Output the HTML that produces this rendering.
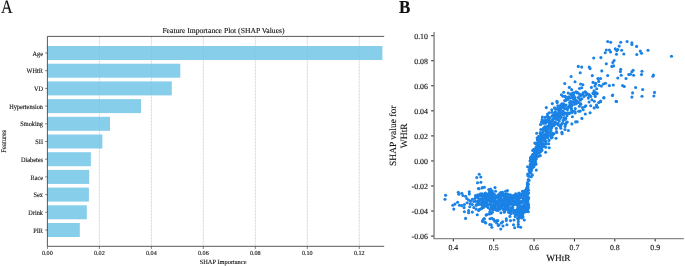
<!DOCTYPE html>
<html><head><meta charset="utf-8"><title>SHAP</title>
<style>html,body{margin:0;padding:0;background:#fff;}svg{display:block;}text{font-family:"Liberation Serif",serif;fill:#111;stroke:#111;stroke-width:0.12px;text-rendering:geometricPrecision;}svg{will-change:transform;}</style></head><body>
<svg width="685" height="266" viewBox="0 0 685 266">
<rect width="685" height="266" fill="#ffffff"/>
<text transform="translate(0.9,12.5) scale(1,1.17)" font-size="16.2" fill="#000" stroke="#000" stroke-width="0.25">A</text>
<text transform="translate(399.1,12.9) scale(1,1.08)" font-size="17" font-weight="bold" fill="#000" stroke="none">B</text>
<line x1="99.38" y1="36.4" x2="99.38" y2="246.3" stroke="#dadada" stroke-width="0.75" stroke-dasharray="2.1,0.9"/>
<line x1="151.36" y1="36.4" x2="151.36" y2="246.3" stroke="#dadada" stroke-width="0.75" stroke-dasharray="2.1,0.9"/>
<line x1="203.34" y1="36.4" x2="203.34" y2="246.3" stroke="#dadada" stroke-width="0.75" stroke-dasharray="2.1,0.9"/>
<line x1="255.32" y1="36.4" x2="255.32" y2="246.3" stroke="#dadada" stroke-width="0.75" stroke-dasharray="2.1,0.9"/>
<line x1="307.30" y1="36.4" x2="307.30" y2="246.3" stroke="#dadada" stroke-width="0.75" stroke-dasharray="2.1,0.9"/>
<line x1="359.28" y1="36.4" x2="359.28" y2="246.3" stroke="#dadada" stroke-width="0.75" stroke-dasharray="2.1,0.9"/>
<rect x="47.4" y="46.00" width="335.00" height="14.0" fill="#87ceeb"/>
<rect x="47.4" y="63.70" width="132.90" height="14.0" fill="#87ceeb"/>
<rect x="47.4" y="81.40" width="124.40" height="14.0" fill="#87ceeb"/>
<rect x="47.4" y="99.10" width="93.60" height="14.0" fill="#87ceeb"/>
<rect x="47.4" y="116.80" width="62.60" height="14.0" fill="#87ceeb"/>
<rect x="47.4" y="134.50" width="55.00" height="14.0" fill="#87ceeb"/>
<rect x="47.4" y="152.20" width="43.50" height="14.0" fill="#87ceeb"/>
<rect x="47.4" y="169.90" width="41.80" height="14.0" fill="#87ceeb"/>
<rect x="47.4" y="187.60" width="41.50" height="14.0" fill="#87ceeb"/>
<rect x="47.4" y="205.30" width="39.40" height="14.0" fill="#87ceeb"/>
<rect x="47.4" y="223.00" width="32.40" height="14.0" fill="#87ceeb"/>
<line x1="99.38" y1="36.4" x2="99.38" y2="246.3" stroke="#9aa5ab" stroke-opacity="0.22" stroke-width="0.75" stroke-dasharray="2.1,0.9"/>
<line x1="151.36" y1="36.4" x2="151.36" y2="246.3" stroke="#9aa5ab" stroke-opacity="0.22" stroke-width="0.75" stroke-dasharray="2.1,0.9"/>
<line x1="203.34" y1="36.4" x2="203.34" y2="246.3" stroke="#9aa5ab" stroke-opacity="0.22" stroke-width="0.75" stroke-dasharray="2.1,0.9"/>
<line x1="255.32" y1="36.4" x2="255.32" y2="246.3" stroke="#9aa5ab" stroke-opacity="0.22" stroke-width="0.75" stroke-dasharray="2.1,0.9"/>
<line x1="307.30" y1="36.4" x2="307.30" y2="246.3" stroke="#9aa5ab" stroke-opacity="0.22" stroke-width="0.75" stroke-dasharray="2.1,0.9"/>
<line x1="359.28" y1="36.4" x2="359.28" y2="246.3" stroke="#9aa5ab" stroke-opacity="0.22" stroke-width="0.75" stroke-dasharray="2.1,0.9"/>
<path d="M384.2 36.4 H47.4 V246.3 H384.2" fill="none" stroke="#3c3c3c" stroke-width="0.85"/>
<line x1="45.1" y1="53.00" x2="47.4" y2="53.00" stroke="#333" stroke-width="0.6"/>
<text transform="translate(43.00,55.60) scale(0.965,1.06)" font-size="6.5" text-anchor="end">Age</text>
<line x1="45.1" y1="70.70" x2="47.4" y2="70.70" stroke="#333" stroke-width="0.6"/>
<text transform="translate(43.00,73.30) scale(0.965,1.06)" font-size="6.5" text-anchor="end">WHtR</text>
<line x1="45.1" y1="88.40" x2="47.4" y2="88.40" stroke="#333" stroke-width="0.6"/>
<text transform="translate(43.00,91.00) scale(0.965,1.06)" font-size="6.5" text-anchor="end">VD</text>
<line x1="45.1" y1="106.10" x2="47.4" y2="106.10" stroke="#333" stroke-width="0.6"/>
<text transform="translate(43.00,108.70) scale(0.965,1.06)" font-size="6.5" text-anchor="end">Hypertension</text>
<line x1="45.1" y1="123.80" x2="47.4" y2="123.80" stroke="#333" stroke-width="0.6"/>
<text transform="translate(43.00,126.40) scale(0.965,1.06)" font-size="6.5" text-anchor="end">Smoking</text>
<line x1="45.1" y1="141.50" x2="47.4" y2="141.50" stroke="#333" stroke-width="0.6"/>
<text transform="translate(43.00,144.10) scale(0.965,1.06)" font-size="6.5" text-anchor="end">SII</text>
<line x1="45.1" y1="159.20" x2="47.4" y2="159.20" stroke="#333" stroke-width="0.6"/>
<text transform="translate(43.00,161.80) scale(0.965,1.06)" font-size="6.5" text-anchor="end">Diabetes</text>
<line x1="45.1" y1="176.90" x2="47.4" y2="176.90" stroke="#333" stroke-width="0.6"/>
<text transform="translate(43.00,179.50) scale(0.965,1.06)" font-size="6.5" text-anchor="end">Race</text>
<line x1="45.1" y1="194.60" x2="47.4" y2="194.60" stroke="#333" stroke-width="0.6"/>
<text transform="translate(43.00,197.20) scale(0.965,1.06)" font-size="6.5" text-anchor="end">Sex</text>
<line x1="45.1" y1="212.30" x2="47.4" y2="212.30" stroke="#333" stroke-width="0.6"/>
<text transform="translate(43.00,214.90) scale(0.965,1.06)" font-size="6.5" text-anchor="end">Drink</text>
<line x1="45.1" y1="230.00" x2="47.4" y2="230.00" stroke="#333" stroke-width="0.6"/>
<text transform="translate(43.00,232.60) scale(0.965,1.06)" font-size="6.5" text-anchor="end">PIR</text>
<line x1="47.40" y1="246.3" x2="47.40" y2="249.0" stroke="#333" stroke-width="0.6"/>
<text x="47.40" y="255.3" font-size="6.15" text-anchor="middle">0.00</text>
<line x1="99.38" y1="246.3" x2="99.38" y2="249.0" stroke="#333" stroke-width="0.6"/>
<text x="99.38" y="255.3" font-size="6.15" text-anchor="middle">0.02</text>
<line x1="151.36" y1="246.3" x2="151.36" y2="249.0" stroke="#333" stroke-width="0.6"/>
<text x="151.36" y="255.3" font-size="6.15" text-anchor="middle">0.04</text>
<line x1="203.34" y1="246.3" x2="203.34" y2="249.0" stroke="#333" stroke-width="0.6"/>
<text x="203.34" y="255.3" font-size="6.15" text-anchor="middle">0.06</text>
<line x1="255.32" y1="246.3" x2="255.32" y2="249.0" stroke="#333" stroke-width="0.6"/>
<text x="255.32" y="255.3" font-size="6.15" text-anchor="middle">0.08</text>
<line x1="307.30" y1="246.3" x2="307.30" y2="249.0" stroke="#333" stroke-width="0.6"/>
<text x="307.30" y="255.3" font-size="6.15" text-anchor="middle">0.10</text>
<line x1="359.28" y1="246.3" x2="359.28" y2="249.0" stroke="#333" stroke-width="0.6"/>
<text x="359.28" y="255.3" font-size="6.15" text-anchor="middle">0.12</text>
<text x="223.5" y="32.9" font-size="7.65" text-anchor="middle">Feature Importance Plot (SHAP Values)</text>
<text x="223.1" y="263.6" font-size="6.4" text-anchor="middle">SHAP Importance</text>
<text transform="translate(5.7,141.5) rotate(-90) scale(1,1.08)" font-size="6.65" text-anchor="middle">Features</text>
<path d="M434.05 32.1 V238.6 H683.8" fill="none" stroke="#888888" stroke-width="1.45"/>
<line x1="431.15" y1="236.10" x2="433.55" y2="236.10" stroke="#111" stroke-width="0.95"/>
<text x="428.0" y="239.00" font-size="7.9" text-anchor="end">-0.06</text>
<line x1="431.15" y1="211.05" x2="433.55" y2="211.05" stroke="#111" stroke-width="0.95"/>
<text x="428.0" y="213.95" font-size="7.9" text-anchor="end">-0.04</text>
<line x1="431.15" y1="186.00" x2="433.55" y2="186.00" stroke="#111" stroke-width="0.95"/>
<text x="428.0" y="188.90" font-size="7.9" text-anchor="end">-0.02</text>
<line x1="431.15" y1="160.95" x2="433.55" y2="160.95" stroke="#111" stroke-width="0.95"/>
<text x="428.0" y="163.85" font-size="7.9" text-anchor="end">0.00</text>
<line x1="431.15" y1="135.90" x2="433.55" y2="135.90" stroke="#111" stroke-width="0.95"/>
<text x="428.0" y="138.80" font-size="7.9" text-anchor="end">0.02</text>
<line x1="431.15" y1="110.85" x2="433.55" y2="110.85" stroke="#111" stroke-width="0.95"/>
<text x="428.0" y="113.75" font-size="7.9" text-anchor="end">0.04</text>
<line x1="431.15" y1="85.80" x2="433.55" y2="85.80" stroke="#111" stroke-width="0.95"/>
<text x="428.0" y="88.70" font-size="7.9" text-anchor="end">0.06</text>
<line x1="431.15" y1="60.75" x2="433.55" y2="60.75" stroke="#111" stroke-width="0.95"/>
<text x="428.0" y="63.65" font-size="7.9" text-anchor="end">0.08</text>
<line x1="431.15" y1="35.70" x2="433.55" y2="35.70" stroke="#111" stroke-width="0.95"/>
<text x="428.0" y="38.60" font-size="7.9" text-anchor="end">0.10</text>
<line x1="453.30" y1="239.1" x2="453.30" y2="241.4" stroke="#111" stroke-width="0.95"/>
<text x="453.30" y="249.8" font-size="7.8" text-anchor="middle">0.4</text>
<line x1="493.68" y1="239.1" x2="493.68" y2="241.4" stroke="#111" stroke-width="0.95"/>
<text x="493.68" y="249.8" font-size="7.8" text-anchor="middle">0.5</text>
<line x1="534.06" y1="239.1" x2="534.06" y2="241.4" stroke="#111" stroke-width="0.95"/>
<text x="534.06" y="249.8" font-size="7.8" text-anchor="middle">0.6</text>
<line x1="574.44" y1="239.1" x2="574.44" y2="241.4" stroke="#111" stroke-width="0.95"/>
<text x="574.44" y="249.8" font-size="7.8" text-anchor="middle">0.7</text>
<line x1="614.82" y1="239.1" x2="614.82" y2="241.4" stroke="#111" stroke-width="0.95"/>
<text x="614.82" y="249.8" font-size="7.8" text-anchor="middle">0.8</text>
<line x1="655.20" y1="239.1" x2="655.20" y2="241.4" stroke="#111" stroke-width="0.95"/>
<text x="655.20" y="249.8" font-size="7.8" text-anchor="middle">0.9</text>
<text x="558.4" y="260.6" font-size="9.3" text-anchor="middle">WHtR</text>
<text transform="translate(395.6,135.8) rotate(-90)" font-size="9.5" text-anchor="middle">SHAP value for</text>
<text transform="translate(406.8,135.8) rotate(-90)" font-size="9.6" text-anchor="middle">WHtR</text>
<g fill="#1b82e5">
<circle cx="478.6" cy="204.3" r="1.55"/>
<circle cx="477.8" cy="203.4" r="1.55"/>
<circle cx="525.2" cy="205.7" r="1.55"/>
<circle cx="490.1" cy="191.8" r="1.55"/>
<circle cx="484.3" cy="205.8" r="1.55"/>
<circle cx="494.5" cy="204.7" r="1.55"/>
<circle cx="497.5" cy="197.2" r="1.55"/>
<circle cx="498.9" cy="196.8" r="1.55"/>
<circle cx="505.3" cy="204.0" r="1.55"/>
<circle cx="482.8" cy="202.8" r="1.55"/>
<circle cx="510.3" cy="211.7" r="1.55"/>
<circle cx="521.3" cy="197.2" r="1.55"/>
<circle cx="506.4" cy="205.8" r="1.55"/>
<circle cx="519.4" cy="217.5" r="1.55"/>
<circle cx="512.1" cy="207.9" r="1.55"/>
<circle cx="518.5" cy="196.3" r="1.55"/>
<circle cx="487.9" cy="199.7" r="1.55"/>
<circle cx="479.0" cy="201.6" r="1.55"/>
<circle cx="521.8" cy="213.4" r="1.55"/>
<circle cx="489.5" cy="200.5" r="1.55"/>
<circle cx="521.8" cy="217.9" r="1.55"/>
<circle cx="484.1" cy="194.6" r="1.55"/>
<circle cx="500.5" cy="206.1" r="1.55"/>
<circle cx="511.5" cy="203.7" r="1.55"/>
<circle cx="522.6" cy="212.2" r="1.55"/>
<circle cx="517.2" cy="199.7" r="1.55"/>
<circle cx="480.1" cy="198.8" r="1.55"/>
<circle cx="521.3" cy="206.9" r="1.55"/>
<circle cx="488.2" cy="198.3" r="1.55"/>
<circle cx="527.6" cy="202.1" r="1.55"/>
<circle cx="493.0" cy="195.6" r="1.55"/>
<circle cx="525.4" cy="204.1" r="1.55"/>
<circle cx="520.7" cy="209.5" r="1.55"/>
<circle cx="515.8" cy="204.2" r="1.55"/>
<circle cx="492.3" cy="194.3" r="1.55"/>
<circle cx="517.6" cy="213.4" r="1.55"/>
<circle cx="486.8" cy="203.8" r="1.55"/>
<circle cx="489.6" cy="195.5" r="1.55"/>
<circle cx="525.6" cy="201.5" r="1.55"/>
<circle cx="494.1" cy="194.2" r="1.55"/>
<circle cx="522.7" cy="214.1" r="1.55"/>
<circle cx="509.5" cy="212.8" r="1.55"/>
<circle cx="516.4" cy="211.2" r="1.55"/>
<circle cx="526.5" cy="199.9" r="1.55"/>
<circle cx="525.1" cy="210.4" r="1.55"/>
<circle cx="522.9" cy="213.0" r="1.55"/>
<circle cx="493.4" cy="204.8" r="1.55"/>
<circle cx="509.3" cy="204.1" r="1.55"/>
<circle cx="518.7" cy="193.9" r="1.55"/>
<circle cx="490.3" cy="194.9" r="1.55"/>
<circle cx="488.5" cy="200.6" r="1.55"/>
<circle cx="523.2" cy="198.5" r="1.55"/>
<circle cx="501.4" cy="204.2" r="1.55"/>
<circle cx="475.7" cy="201.3" r="1.55"/>
<circle cx="483.9" cy="202.3" r="1.55"/>
<circle cx="504.3" cy="197.6" r="1.55"/>
<circle cx="504.3" cy="212.3" r="1.55"/>
<circle cx="504.6" cy="195.1" r="1.55"/>
<circle cx="515.8" cy="203.4" r="1.55"/>
<circle cx="515.2" cy="216.4" r="1.55"/>
<circle cx="507.3" cy="203.4" r="1.55"/>
<circle cx="511.6" cy="201.7" r="1.55"/>
<circle cx="524.9" cy="195.5" r="1.55"/>
<circle cx="525.4" cy="199.9" r="1.55"/>
<circle cx="483.3" cy="201.0" r="1.55"/>
<circle cx="492.8" cy="193.4" r="1.55"/>
<circle cx="504.2" cy="201.3" r="1.55"/>
<circle cx="492.4" cy="207.2" r="1.55"/>
<circle cx="480.3" cy="195.7" r="1.55"/>
<circle cx="516.2" cy="195.8" r="1.55"/>
<circle cx="518.3" cy="195.5" r="1.55"/>
<circle cx="523.7" cy="205.5" r="1.55"/>
<circle cx="511.4" cy="200.8" r="1.55"/>
<circle cx="524.7" cy="207.5" r="1.55"/>
<circle cx="498.9" cy="198.0" r="1.55"/>
<circle cx="524.1" cy="195.7" r="1.55"/>
<circle cx="502.8" cy="194.8" r="1.55"/>
<circle cx="485.5" cy="197.2" r="1.55"/>
<circle cx="515.2" cy="196.5" r="1.55"/>
<circle cx="484.2" cy="198.3" r="1.55"/>
<circle cx="513.8" cy="204.8" r="1.55"/>
<circle cx="497.7" cy="203.0" r="1.55"/>
<circle cx="495.7" cy="203.4" r="1.55"/>
<circle cx="514.2" cy="195.4" r="1.55"/>
<circle cx="521.1" cy="208.7" r="1.55"/>
<circle cx="487.6" cy="196.6" r="1.55"/>
<circle cx="491.2" cy="198.6" r="1.55"/>
<circle cx="495.0" cy="202.4" r="1.55"/>
<circle cx="485.4" cy="203.3" r="1.55"/>
<circle cx="475.9" cy="196.9" r="1.55"/>
<circle cx="509.7" cy="210.1" r="1.55"/>
<circle cx="495.5" cy="197.6" r="1.55"/>
<circle cx="519.2" cy="215.8" r="1.55"/>
<circle cx="513.8" cy="213.2" r="1.55"/>
<circle cx="502.6" cy="203.3" r="1.55"/>
<circle cx="522.3" cy="209.1" r="1.55"/>
<circle cx="481.8" cy="198.7" r="1.55"/>
<circle cx="519.2" cy="205.1" r="1.55"/>
<circle cx="508.1" cy="209.0" r="1.55"/>
<circle cx="514.6" cy="203.3" r="1.55"/>
<circle cx="526.7" cy="203.0" r="1.55"/>
<circle cx="500.2" cy="209.1" r="1.55"/>
<circle cx="507.6" cy="207.8" r="1.55"/>
<circle cx="482.6" cy="195.3" r="1.55"/>
<circle cx="490.9" cy="205.4" r="1.55"/>
<circle cx="511.6" cy="208.8" r="1.55"/>
<circle cx="502.2" cy="202.1" r="1.55"/>
<circle cx="485.9" cy="205.8" r="1.55"/>
<circle cx="522.5" cy="202.8" r="1.55"/>
<circle cx="524.0" cy="210.0" r="1.55"/>
<circle cx="490.2" cy="199.1" r="1.55"/>
<circle cx="493.9" cy="200.9" r="1.55"/>
<circle cx="488.0" cy="195.7" r="1.55"/>
<circle cx="504.0" cy="210.2" r="1.55"/>
<circle cx="513.7" cy="201.6" r="1.55"/>
<circle cx="509.0" cy="196.3" r="1.55"/>
<circle cx="524.1" cy="191.2" r="1.55"/>
<circle cx="493.0" cy="196.7" r="1.55"/>
<circle cx="526.7" cy="195.5" r="1.55"/>
<circle cx="522.0" cy="211.2" r="1.55"/>
<circle cx="496.8" cy="204.0" r="1.55"/>
<circle cx="481.4" cy="203.3" r="1.55"/>
<circle cx="520.7" cy="194.1" r="1.55"/>
<circle cx="518.7" cy="214.6" r="1.55"/>
<circle cx="482.9" cy="203.9" r="1.55"/>
<circle cx="515.4" cy="201.8" r="1.55"/>
<circle cx="488.1" cy="207.6" r="1.55"/>
<circle cx="502.6" cy="205.9" r="1.55"/>
<circle cx="486.6" cy="206.4" r="1.55"/>
<circle cx="490.8" cy="201.9" r="1.55"/>
<circle cx="500.0" cy="194.7" r="1.55"/>
<circle cx="525.9" cy="209.8" r="1.55"/>
<circle cx="524.0" cy="194.4" r="1.55"/>
<circle cx="492.7" cy="200.6" r="1.55"/>
<circle cx="526.4" cy="197.2" r="1.55"/>
<circle cx="487.0" cy="194.3" r="1.55"/>
<circle cx="501.1" cy="193.2" r="1.55"/>
<circle cx="496.9" cy="208.5" r="1.55"/>
<circle cx="482.5" cy="199.8" r="1.55"/>
<circle cx="526.6" cy="191.7" r="1.55"/>
<circle cx="524.3" cy="197.7" r="1.55"/>
<circle cx="524.5" cy="211.1" r="1.55"/>
<circle cx="510.1" cy="199.3" r="1.55"/>
<circle cx="492.4" cy="192.6" r="1.55"/>
<circle cx="489.6" cy="198.4" r="1.55"/>
<circle cx="485.8" cy="198.6" r="1.55"/>
<circle cx="518.5" cy="201.0" r="1.55"/>
<circle cx="499.9" cy="199.1" r="1.55"/>
<circle cx="522.6" cy="198.0" r="1.55"/>
<circle cx="525.7" cy="207.0" r="1.55"/>
<circle cx="512.9" cy="197.3" r="1.55"/>
<circle cx="523.5" cy="207.5" r="1.55"/>
<circle cx="495.3" cy="195.2" r="1.55"/>
<circle cx="507.1" cy="197.7" r="1.55"/>
<circle cx="476.5" cy="204.9" r="1.55"/>
<circle cx="498.5" cy="194.7" r="1.55"/>
<circle cx="519.8" cy="208.5" r="1.55"/>
<circle cx="519.5" cy="196.6" r="1.55"/>
<circle cx="485.3" cy="195.1" r="1.55"/>
<circle cx="505.5" cy="197.6" r="1.55"/>
<circle cx="527.6" cy="203.4" r="1.55"/>
<circle cx="517.8" cy="208.1" r="1.55"/>
<circle cx="519.5" cy="216.5" r="1.55"/>
<circle cx="490.4" cy="191.0" r="1.55"/>
<circle cx="525.1" cy="190.5" r="1.55"/>
<circle cx="507.7" cy="194.1" r="1.55"/>
<circle cx="482.3" cy="193.7" r="1.55"/>
<circle cx="506.6" cy="208.1" r="1.55"/>
<circle cx="484.6" cy="197.2" r="1.55"/>
<circle cx="517.1" cy="204.7" r="1.55"/>
<circle cx="480.1" cy="199.8" r="1.55"/>
<circle cx="496.5" cy="196.2" r="1.55"/>
<circle cx="525.5" cy="197.2" r="1.55"/>
<circle cx="527.8" cy="198.8" r="1.55"/>
<circle cx="507.8" cy="199.1" r="1.55"/>
<circle cx="482.5" cy="196.2" r="1.55"/>
<circle cx="517.6" cy="218.2" r="1.55"/>
<circle cx="524.0" cy="199.6" r="1.55"/>
<circle cx="486.5" cy="200.1" r="1.55"/>
<circle cx="518.9" cy="193.0" r="1.55"/>
<circle cx="504.7" cy="211.5" r="1.55"/>
<circle cx="506.6" cy="204.8" r="1.55"/>
<circle cx="491.0" cy="200.6" r="1.55"/>
<circle cx="515.4" cy="212.2" r="1.55"/>
<circle cx="481.6" cy="201.0" r="1.55"/>
<circle cx="513.8" cy="212.1" r="1.55"/>
<circle cx="525.3" cy="191.5" r="1.55"/>
<circle cx="523.5" cy="192.5" r="1.55"/>
<circle cx="524.6" cy="209.0" r="1.55"/>
<circle cx="480.9" cy="204.2" r="1.55"/>
<circle cx="504.3" cy="205.8" r="1.55"/>
<circle cx="508.3" cy="199.8" r="1.55"/>
<circle cx="505.5" cy="198.7" r="1.55"/>
<circle cx="507.5" cy="201.0" r="1.55"/>
<circle cx="522.4" cy="191.4" r="1.55"/>
<circle cx="474.9" cy="198.5" r="1.55"/>
<circle cx="506.1" cy="193.7" r="1.55"/>
<circle cx="521.1" cy="212.3" r="1.55"/>
<circle cx="509.1" cy="205.2" r="1.55"/>
<circle cx="509.1" cy="201.4" r="1.55"/>
<circle cx="477.1" cy="204.2" r="1.55"/>
<circle cx="501.7" cy="207.7" r="1.55"/>
<circle cx="516.4" cy="210.1" r="1.55"/>
<circle cx="519.7" cy="211.1" r="1.55"/>
<circle cx="480.3" cy="194.6" r="1.55"/>
<circle cx="512.6" cy="195.7" r="1.55"/>
<circle cx="502.6" cy="195.7" r="1.55"/>
<circle cx="526.1" cy="194.1" r="1.55"/>
<circle cx="475.5" cy="195.5" r="1.55"/>
<circle cx="514.4" cy="197.6" r="1.55"/>
<circle cx="498.0" cy="210.4" r="1.55"/>
<circle cx="491.1" cy="194.0" r="1.55"/>
<circle cx="518.4" cy="215.8" r="1.55"/>
<circle cx="480.4" cy="193.8" r="1.55"/>
<circle cx="512.8" cy="199.0" r="1.55"/>
<circle cx="496.7" cy="201.2" r="1.55"/>
<circle cx="493.2" cy="209.8" r="1.55"/>
<circle cx="500.9" cy="212.7" r="1.55"/>
<circle cx="501.1" cy="198.3" r="1.55"/>
<circle cx="489.8" cy="194.0" r="1.55"/>
<circle cx="501.4" cy="199.3" r="1.55"/>
<circle cx="487.2" cy="201.9" r="1.55"/>
<circle cx="514.9" cy="211.3" r="1.55"/>
<circle cx="493.3" cy="197.6" r="1.55"/>
<circle cx="505.6" cy="191.2" r="1.55"/>
<circle cx="521.8" cy="194.8" r="1.55"/>
<circle cx="502.5" cy="192.3" r="1.55"/>
<circle cx="526.0" cy="190.4" r="1.55"/>
<circle cx="485.7" cy="199.6" r="1.55"/>
<circle cx="506.9" cy="200.1" r="1.55"/>
<circle cx="523.1" cy="201.0" r="1.55"/>
<circle cx="514.6" cy="200.7" r="1.55"/>
<circle cx="510.9" cy="207.7" r="1.55"/>
<circle cx="491.4" cy="207.3" r="1.55"/>
<circle cx="512.7" cy="207.4" r="1.55"/>
<circle cx="497.3" cy="201.8" r="1.55"/>
<circle cx="516.2" cy="199.6" r="1.55"/>
<circle cx="526.6" cy="188.4" r="1.55"/>
<circle cx="502.5" cy="200.3" r="1.55"/>
<circle cx="493.5" cy="207.7" r="1.55"/>
<circle cx="518.2" cy="202.2" r="1.55"/>
<circle cx="519.1" cy="198.5" r="1.55"/>
<circle cx="489.0" cy="199.2" r="1.55"/>
<circle cx="500.3" cy="200.9" r="1.55"/>
<circle cx="509.6" cy="195.2" r="1.55"/>
<circle cx="522.2" cy="206.7" r="1.55"/>
<circle cx="516.7" cy="214.1" r="1.55"/>
<circle cx="500.9" cy="203.1" r="1.55"/>
<circle cx="519.5" cy="202.2" r="1.55"/>
<circle cx="494.7" cy="200.6" r="1.55"/>
<circle cx="507.2" cy="209.1" r="1.55"/>
<circle cx="508.0" cy="198.0" r="1.55"/>
<circle cx="494.2" cy="202.4" r="1.55"/>
<circle cx="515.7" cy="193.9" r="1.55"/>
<circle cx="497.2" cy="204.9" r="1.55"/>
<circle cx="491.6" cy="196.8" r="1.55"/>
<circle cx="508.5" cy="212.3" r="1.55"/>
<circle cx="523.2" cy="206.8" r="1.55"/>
<circle cx="510.2" cy="201.8" r="1.55"/>
<circle cx="518.5" cy="212.4" r="1.55"/>
<circle cx="488.5" cy="196.8" r="1.55"/>
<circle cx="495.3" cy="206.1" r="1.55"/>
<circle cx="508.2" cy="209.9" r="1.55"/>
<circle cx="494.3" cy="205.6" r="1.55"/>
<circle cx="517.2" cy="198.8" r="1.55"/>
<circle cx="508.2" cy="200.6" r="1.55"/>
<circle cx="504.9" cy="196.5" r="1.55"/>
<circle cx="519.0" cy="206.4" r="1.55"/>
<circle cx="494.8" cy="209.1" r="1.55"/>
<circle cx="519.1" cy="213.2" r="1.55"/>
<circle cx="517.7" cy="209.1" r="1.55"/>
<circle cx="499.5" cy="193.8" r="1.55"/>
<circle cx="514.7" cy="212.6" r="1.55"/>
<circle cx="522.5" cy="215.6" r="1.55"/>
<circle cx="506.5" cy="198.2" r="1.55"/>
<circle cx="516.2" cy="200.8" r="1.55"/>
<circle cx="515.6" cy="213.4" r="1.55"/>
<circle cx="485.4" cy="193.0" r="1.55"/>
<circle cx="525.8" cy="195.4" r="1.55"/>
<circle cx="527.5" cy="194.3" r="1.55"/>
<circle cx="527.2" cy="188.9" r="1.55"/>
<circle cx="510.8" cy="196.7" r="1.55"/>
<circle cx="492.0" cy="195.4" r="1.55"/>
<circle cx="520.9" cy="215.7" r="1.55"/>
<circle cx="500.1" cy="207.3" r="1.55"/>
<circle cx="512.7" cy="204.9" r="1.55"/>
<circle cx="521.1" cy="195.7" r="1.55"/>
<circle cx="500.1" cy="196.3" r="1.55"/>
<circle cx="502.8" cy="193.1" r="1.55"/>
<circle cx="523.3" cy="194.2" r="1.55"/>
<circle cx="517.9" cy="205.9" r="1.55"/>
<circle cx="496.5" cy="210.3" r="1.55"/>
<circle cx="517.9" cy="197.9" r="1.55"/>
<circle cx="520.7" cy="203.0" r="1.55"/>
<circle cx="488.9" cy="193.1" r="1.55"/>
<circle cx="525.5" cy="203.0" r="1.55"/>
<circle cx="503.0" cy="204.4" r="1.55"/>
<circle cx="489.6" cy="191.1" r="1.55"/>
<circle cx="519.4" cy="204.0" r="1.55"/>
<circle cx="524.8" cy="212.1" r="1.55"/>
<circle cx="478.4" cy="201.0" r="1.55"/>
<circle cx="489.3" cy="204.6" r="1.55"/>
<circle cx="507.8" cy="195.2" r="1.55"/>
<circle cx="490.0" cy="197.0" r="1.55"/>
<circle cx="490.4" cy="200.2" r="1.55"/>
<circle cx="507.2" cy="205.4" r="1.55"/>
<circle cx="499.3" cy="204.7" r="1.55"/>
<circle cx="499.7" cy="197.1" r="1.55"/>
<circle cx="487.4" cy="205.0" r="1.55"/>
<circle cx="521.1" cy="201.3" r="1.55"/>
<circle cx="495.4" cy="201.3" r="1.55"/>
<circle cx="492.7" cy="198.5" r="1.55"/>
<circle cx="518.4" cy="203.8" r="1.55"/>
<circle cx="505.9" cy="203.1" r="1.55"/>
<circle cx="505.2" cy="200.6" r="1.55"/>
<circle cx="498.8" cy="201.8" r="1.55"/>
<circle cx="520.0" cy="203.2" r="1.55"/>
<circle cx="505.4" cy="205.8" r="1.55"/>
<circle cx="504.8" cy="203.1" r="1.55"/>
<circle cx="495.5" cy="198.6" r="1.55"/>
<circle cx="510.7" cy="204.0" r="1.55"/>
<circle cx="490.2" cy="203.6" r="1.55"/>
<circle cx="491.1" cy="209.3" r="1.55"/>
<circle cx="505.9" cy="208.6" r="1.55"/>
<circle cx="483.8" cy="203.9" r="1.55"/>
<circle cx="515.7" cy="197.5" r="1.55"/>
<circle cx="522.8" cy="205.8" r="1.55"/>
<circle cx="498.7" cy="199.5" r="1.55"/>
<circle cx="498.1" cy="207.1" r="1.55"/>
<circle cx="520.2" cy="197.3" r="1.55"/>
<circle cx="486.5" cy="197.1" r="1.55"/>
<circle cx="493.4" cy="195.0" r="1.55"/>
<circle cx="510.1" cy="198.1" r="1.55"/>
<circle cx="501.6" cy="194.4" r="1.55"/>
<circle cx="495.2" cy="208.3" r="1.55"/>
<circle cx="491.3" cy="199.7" r="1.55"/>
<circle cx="491.8" cy="208.4" r="1.55"/>
<circle cx="504.6" cy="198.8" r="1.55"/>
<circle cx="513.8" cy="210.0" r="1.55"/>
<circle cx="505.1" cy="210.1" r="1.55"/>
<circle cx="497.9" cy="209.1" r="1.55"/>
<circle cx="520.2" cy="206.6" r="1.55"/>
<circle cx="511.7" cy="199.8" r="1.55"/>
<circle cx="525.1" cy="200.8" r="1.55"/>
<circle cx="511.5" cy="210.9" r="1.55"/>
<circle cx="508.2" cy="201.7" r="1.55"/>
<circle cx="526.3" cy="207.6" r="1.55"/>
<circle cx="510.4" cy="194.8" r="1.55"/>
<circle cx="482.3" cy="205.2" r="1.55"/>
<circle cx="518.1" cy="204.7" r="1.55"/>
<circle cx="506.6" cy="202.0" r="1.55"/>
<circle cx="477.9" cy="196.2" r="1.55"/>
<circle cx="492.0" cy="202.2" r="1.55"/>
<circle cx="518.9" cy="211.0" r="1.55"/>
<circle cx="504.9" cy="207.3" r="1.55"/>
<circle cx="483.1" cy="196.8" r="1.55"/>
<circle cx="519.5" cy="214.6" r="1.55"/>
<circle cx="497.4" cy="196.2" r="1.55"/>
<circle cx="498.3" cy="205.2" r="1.55"/>
<circle cx="507.2" cy="196.7" r="1.55"/>
<circle cx="504.2" cy="194.4" r="1.55"/>
<circle cx="479.0" cy="200.2" r="1.55"/>
<circle cx="518.9" cy="199.7" r="1.55"/>
<circle cx="525.8" cy="205.2" r="1.55"/>
<circle cx="477.8" cy="194.8" r="1.55"/>
<circle cx="511.0" cy="213.6" r="1.55"/>
<circle cx="485.0" cy="201.5" r="1.55"/>
<circle cx="490.2" cy="209.2" r="1.55"/>
<circle cx="503.4" cy="209.3" r="1.55"/>
<circle cx="510.9" cy="199.8" r="1.55"/>
<circle cx="505.4" cy="199.6" r="1.55"/>
<circle cx="510.4" cy="195.9" r="1.55"/>
<circle cx="501.3" cy="195.6" r="1.55"/>
<circle cx="515.8" cy="215.1" r="1.55"/>
<circle cx="508.4" cy="207.5" r="1.55"/>
<circle cx="521.2" cy="217.3" r="1.55"/>
<circle cx="477.9" cy="198.0" r="1.55"/>
<circle cx="487.7" cy="194.7" r="1.55"/>
<circle cx="483.5" cy="195.8" r="1.55"/>
<circle cx="521.3" cy="207.7" r="1.55"/>
<circle cx="529.1" cy="169.5" r="1.55"/>
<circle cx="528.6" cy="193.0" r="1.55"/>
<circle cx="528.1" cy="179.9" r="1.55"/>
<circle cx="530.7" cy="161.1" r="1.55"/>
<circle cx="529.0" cy="180.4" r="1.55"/>
<circle cx="529.1" cy="176.1" r="1.55"/>
<circle cx="527.4" cy="184.7" r="1.55"/>
<circle cx="527.7" cy="183.0" r="1.55"/>
<circle cx="534.6" cy="158.7" r="1.55"/>
<circle cx="527.6" cy="211.3" r="1.55"/>
<circle cx="530.0" cy="161.0" r="1.55"/>
<circle cx="527.9" cy="175.8" r="1.55"/>
<circle cx="532.0" cy="163.0" r="1.55"/>
<circle cx="528.1" cy="199.4" r="1.55"/>
<circle cx="532.2" cy="162.9" r="1.55"/>
<circle cx="527.2" cy="187.1" r="1.55"/>
<circle cx="527.0" cy="189.8" r="1.55"/>
<circle cx="527.5" cy="190.5" r="1.55"/>
<circle cx="528.8" cy="175.9" r="1.55"/>
<circle cx="527.4" cy="196.4" r="1.55"/>
<circle cx="527.9" cy="199.2" r="1.55"/>
<circle cx="527.4" cy="199.7" r="1.55"/>
<circle cx="527.5" cy="210.8" r="1.55"/>
<circle cx="527.8" cy="186.3" r="1.55"/>
<circle cx="528.0" cy="208.8" r="1.55"/>
<circle cx="527.9" cy="183.7" r="1.55"/>
<circle cx="527.9" cy="193.4" r="1.55"/>
<circle cx="527.4" cy="211.4" r="1.55"/>
<circle cx="529.9" cy="170.3" r="1.55"/>
<circle cx="531.7" cy="159.5" r="1.55"/>
<circle cx="532.5" cy="165.2" r="1.55"/>
<circle cx="528.0" cy="188.0" r="1.55"/>
<circle cx="531.6" cy="167.8" r="1.55"/>
<circle cx="530.3" cy="166.1" r="1.55"/>
<circle cx="530.2" cy="167.6" r="1.55"/>
<circle cx="527.6" cy="166.8" r="1.55"/>
<circle cx="532.6" cy="159.6" r="1.55"/>
<circle cx="527.6" cy="211.0" r="1.55"/>
<circle cx="527.4" cy="184.9" r="1.55"/>
<circle cx="527.5" cy="201.2" r="1.55"/>
<circle cx="527.4" cy="182.8" r="1.55"/>
<circle cx="534.2" cy="163.8" r="1.55"/>
<circle cx="528.6" cy="197.6" r="1.55"/>
<circle cx="528.7" cy="179.7" r="1.55"/>
<circle cx="528.6" cy="204.7" r="1.55"/>
<circle cx="528.5" cy="180.1" r="1.55"/>
<circle cx="528.7" cy="207.6" r="1.55"/>
<circle cx="529.4" cy="170.1" r="1.55"/>
<circle cx="529.5" cy="171.6" r="1.55"/>
<circle cx="531.1" cy="170.5" r="1.55"/>
<circle cx="530.3" cy="169.0" r="1.55"/>
<circle cx="527.7" cy="174.1" r="1.55"/>
<circle cx="528.2" cy="211.7" r="1.55"/>
<circle cx="532.4" cy="166.5" r="1.55"/>
<circle cx="528.2" cy="204.6" r="1.55"/>
<circle cx="527.5" cy="198.6" r="1.55"/>
<circle cx="527.8" cy="202.4" r="1.55"/>
<circle cx="528.3" cy="184.2" r="1.55"/>
<circle cx="528.4" cy="206.1" r="1.55"/>
<circle cx="528.5" cy="190.3" r="1.55"/>
<circle cx="566.4" cy="99.1" r="1.55"/>
<circle cx="537.4" cy="139.9" r="1.55"/>
<circle cx="569.1" cy="113.6" r="1.55"/>
<circle cx="562.6" cy="112.9" r="1.55"/>
<circle cx="533.6" cy="156.2" r="1.55"/>
<circle cx="594.8" cy="94.4" r="1.55"/>
<circle cx="557.7" cy="116.3" r="1.55"/>
<circle cx="533.2" cy="161.3" r="1.55"/>
<circle cx="561.3" cy="107.8" r="1.55"/>
<circle cx="562.5" cy="112.6" r="1.55"/>
<circle cx="544.2" cy="144.5" r="1.55"/>
<circle cx="570.6" cy="101.3" r="1.55"/>
<circle cx="530.7" cy="169.1" r="1.55"/>
<circle cx="547.8" cy="126.6" r="1.55"/>
<circle cx="554.3" cy="117.1" r="1.55"/>
<circle cx="573.0" cy="111.3" r="1.55"/>
<circle cx="532.1" cy="163.8" r="1.55"/>
<circle cx="544.9" cy="126.9" r="1.55"/>
<circle cx="549.3" cy="112.8" r="1.55"/>
<circle cx="570.3" cy="98.0" r="1.55"/>
<circle cx="550.1" cy="124.5" r="1.55"/>
<circle cx="572.7" cy="101.7" r="1.55"/>
<circle cx="549.4" cy="120.3" r="1.55"/>
<circle cx="555.3" cy="117.3" r="1.55"/>
<circle cx="573.6" cy="99.3" r="1.55"/>
<circle cx="532.1" cy="155.7" r="1.55"/>
<circle cx="533.7" cy="162.5" r="1.55"/>
<circle cx="548.2" cy="119.3" r="1.55"/>
<circle cx="545.0" cy="139.0" r="1.55"/>
<circle cx="547.1" cy="135.8" r="1.55"/>
<circle cx="565.5" cy="113.1" r="1.55"/>
<circle cx="572.1" cy="97.0" r="1.55"/>
<circle cx="531.9" cy="168.4" r="1.55"/>
<circle cx="531.5" cy="164.5" r="1.55"/>
<circle cx="560.0" cy="106.5" r="1.55"/>
<circle cx="561.4" cy="124.4" r="1.55"/>
<circle cx="547.9" cy="132.3" r="1.55"/>
<circle cx="551.8" cy="109.7" r="1.55"/>
<circle cx="541.6" cy="136.1" r="1.55"/>
<circle cx="539.0" cy="140.8" r="1.55"/>
<circle cx="553.1" cy="119.8" r="1.55"/>
<circle cx="548.6" cy="121.5" r="1.55"/>
<circle cx="571.5" cy="109.9" r="1.55"/>
<circle cx="543.5" cy="123.0" r="1.55"/>
<circle cx="540.8" cy="129.5" r="1.55"/>
<circle cx="531.5" cy="167.9" r="1.55"/>
<circle cx="530.5" cy="164.4" r="1.55"/>
<circle cx="577.2" cy="121.8" r="1.55"/>
<circle cx="591.9" cy="99.7" r="1.55"/>
<circle cx="532.2" cy="163.4" r="1.55"/>
<circle cx="535.9" cy="158.5" r="1.55"/>
<circle cx="535.7" cy="154.5" r="1.55"/>
<circle cx="543.4" cy="128.2" r="1.55"/>
<circle cx="545.9" cy="133.6" r="1.55"/>
<circle cx="542.7" cy="132.4" r="1.55"/>
<circle cx="552.7" cy="119.6" r="1.55"/>
<circle cx="535.0" cy="152.9" r="1.55"/>
<circle cx="535.0" cy="152.3" r="1.55"/>
<circle cx="580.7" cy="103.9" r="1.55"/>
<circle cx="552.3" cy="124.9" r="1.55"/>
<circle cx="567.0" cy="113.5" r="1.55"/>
<circle cx="535.3" cy="150.4" r="1.55"/>
<circle cx="543.0" cy="143.7" r="1.55"/>
<circle cx="540.8" cy="142.0" r="1.55"/>
<circle cx="556.3" cy="128.4" r="1.55"/>
<circle cx="539.3" cy="153.1" r="1.55"/>
<circle cx="534.0" cy="164.8" r="1.55"/>
<circle cx="542.4" cy="144.6" r="1.55"/>
<circle cx="554.7" cy="117.6" r="1.55"/>
<circle cx="560.1" cy="126.5" r="1.55"/>
<circle cx="538.3" cy="145.8" r="1.55"/>
<circle cx="593.2" cy="93.6" r="1.55"/>
<circle cx="540.9" cy="150.0" r="1.55"/>
<circle cx="534.0" cy="155.0" r="1.55"/>
<circle cx="563.4" cy="105.8" r="1.55"/>
<circle cx="539.0" cy="144.2" r="1.55"/>
<circle cx="541.7" cy="146.9" r="1.55"/>
<circle cx="546.8" cy="126.9" r="1.55"/>
<circle cx="535.3" cy="157.2" r="1.55"/>
<circle cx="539.7" cy="141.6" r="1.55"/>
<circle cx="549.1" cy="126.1" r="1.55"/>
<circle cx="540.3" cy="146.7" r="1.55"/>
<circle cx="556.7" cy="132.5" r="1.55"/>
<circle cx="566.1" cy="105.1" r="1.55"/>
<circle cx="549.6" cy="128.1" r="1.55"/>
<circle cx="559.7" cy="108.2" r="1.55"/>
<circle cx="558.7" cy="112.1" r="1.55"/>
<circle cx="557.8" cy="105.8" r="1.55"/>
<circle cx="549.2" cy="122.8" r="1.55"/>
<circle cx="533.1" cy="155.4" r="1.55"/>
<circle cx="534.5" cy="161.6" r="1.55"/>
<circle cx="589.1" cy="95.8" r="1.55"/>
<circle cx="549.9" cy="117.6" r="1.55"/>
<circle cx="552.3" cy="103.6" r="1.55"/>
<circle cx="579.4" cy="106.2" r="1.55"/>
<circle cx="533.3" cy="161.5" r="1.55"/>
<circle cx="542.4" cy="117.1" r="1.55"/>
<circle cx="532.0" cy="166.3" r="1.55"/>
<circle cx="573.9" cy="92.8" r="1.55"/>
<circle cx="551.4" cy="122.5" r="1.55"/>
<circle cx="530.2" cy="164.7" r="1.55"/>
<circle cx="543.5" cy="143.9" r="1.55"/>
<circle cx="553.0" cy="118.7" r="1.55"/>
<circle cx="550.6" cy="123.3" r="1.55"/>
<circle cx="535.3" cy="161.6" r="1.55"/>
<circle cx="535.0" cy="161.3" r="1.55"/>
<circle cx="542.4" cy="144.4" r="1.55"/>
<circle cx="530.9" cy="170.7" r="1.55"/>
<circle cx="567.0" cy="108.4" r="1.55"/>
<circle cx="545.6" cy="123.2" r="1.55"/>
<circle cx="585.3" cy="114.0" r="1.55"/>
<circle cx="542.8" cy="129.6" r="1.55"/>
<circle cx="554.0" cy="133.7" r="1.55"/>
<circle cx="542.9" cy="144.8" r="1.55"/>
<circle cx="557.5" cy="114.4" r="1.55"/>
<circle cx="539.7" cy="137.4" r="1.55"/>
<circle cx="568.8" cy="96.9" r="1.55"/>
<circle cx="585.8" cy="92.4" r="1.55"/>
<circle cx="586.4" cy="94.0" r="1.55"/>
<circle cx="571.3" cy="108.6" r="1.55"/>
<circle cx="563.1" cy="111.1" r="1.55"/>
<circle cx="542.2" cy="119.6" r="1.55"/>
<circle cx="565.0" cy="118.8" r="1.55"/>
<circle cx="534.6" cy="155.7" r="1.55"/>
<circle cx="550.0" cy="133.1" r="1.55"/>
<circle cx="571.9" cy="105.6" r="1.55"/>
<circle cx="547.1" cy="116.6" r="1.55"/>
<circle cx="540.8" cy="151.5" r="1.55"/>
<circle cx="542.2" cy="138.3" r="1.55"/>
<circle cx="535.8" cy="159.1" r="1.55"/>
<circle cx="535.8" cy="153.2" r="1.55"/>
<circle cx="560.1" cy="109.1" r="1.55"/>
<circle cx="590.1" cy="112.8" r="1.55"/>
<circle cx="552.6" cy="133.4" r="1.55"/>
<circle cx="561.9" cy="103.9" r="1.55"/>
<circle cx="569.1" cy="106.5" r="1.55"/>
<circle cx="544.3" cy="130.5" r="1.55"/>
<circle cx="562.7" cy="104.2" r="1.55"/>
<circle cx="537.7" cy="144.7" r="1.55"/>
<circle cx="531.2" cy="168.6" r="1.55"/>
<circle cx="533.3" cy="162.7" r="1.55"/>
<circle cx="570.3" cy="112.8" r="1.55"/>
<circle cx="531.1" cy="168.7" r="1.55"/>
<circle cx="557.7" cy="119.6" r="1.55"/>
<circle cx="538.6" cy="139.8" r="1.55"/>
<circle cx="552.6" cy="134.9" r="1.55"/>
<circle cx="557.2" cy="102.6" r="1.55"/>
<circle cx="552.0" cy="112.2" r="1.55"/>
<circle cx="542.2" cy="134.3" r="1.55"/>
<circle cx="537.7" cy="147.8" r="1.55"/>
<circle cx="542.9" cy="123.1" r="1.55"/>
<circle cx="543.4" cy="138.0" r="1.55"/>
<circle cx="542.3" cy="140.3" r="1.55"/>
<circle cx="558.9" cy="109.8" r="1.55"/>
<circle cx="533.3" cy="157.4" r="1.55"/>
<circle cx="539.4" cy="149.3" r="1.55"/>
<circle cx="576.0" cy="102.8" r="1.55"/>
<circle cx="533.9" cy="149.4" r="1.55"/>
<circle cx="577.0" cy="102.5" r="1.55"/>
<circle cx="539.4" cy="144.4" r="1.55"/>
<circle cx="575.2" cy="112.9" r="1.55"/>
<circle cx="593.0" cy="93.1" r="1.55"/>
<circle cx="532.4" cy="174.9" r="1.55"/>
<circle cx="532.2" cy="166.8" r="1.55"/>
<circle cx="545.9" cy="141.4" r="1.55"/>
<circle cx="545.2" cy="136.4" r="1.55"/>
<circle cx="541.0" cy="143.7" r="1.55"/>
<circle cx="575.3" cy="108.6" r="1.55"/>
<circle cx="549.9" cy="127.6" r="1.55"/>
<circle cx="548.1" cy="116.6" r="1.55"/>
<circle cx="582.4" cy="107.5" r="1.55"/>
<circle cx="535.7" cy="156.9" r="1.55"/>
<circle cx="560.4" cy="115.6" r="1.55"/>
<circle cx="563.4" cy="112.3" r="1.55"/>
<circle cx="564.2" cy="113.6" r="1.55"/>
<circle cx="545.2" cy="122.8" r="1.55"/>
<circle cx="559.7" cy="108.8" r="1.55"/>
<circle cx="535.1" cy="158.6" r="1.55"/>
<circle cx="547.5" cy="114.1" r="1.55"/>
<circle cx="535.6" cy="157.6" r="1.55"/>
<circle cx="535.3" cy="157.0" r="1.55"/>
<circle cx="560.5" cy="108.2" r="1.55"/>
<circle cx="542.6" cy="145.7" r="1.55"/>
<circle cx="534.6" cy="152.1" r="1.55"/>
<circle cx="555.3" cy="108.9" r="1.55"/>
<circle cx="557.3" cy="109.2" r="1.55"/>
<circle cx="565.3" cy="124.0" r="1.55"/>
<circle cx="537.6" cy="145.9" r="1.55"/>
<circle cx="584.8" cy="106.7" r="1.55"/>
<circle cx="568.1" cy="107.6" r="1.55"/>
<circle cx="596.5" cy="105.1" r="1.55"/>
<circle cx="595.2" cy="92.7" r="1.55"/>
<circle cx="553.7" cy="114.8" r="1.55"/>
<circle cx="543.7" cy="121.7" r="1.55"/>
<circle cx="535.6" cy="164.3" r="1.55"/>
<circle cx="545.8" cy="128.7" r="1.55"/>
<circle cx="589.1" cy="102.0" r="1.55"/>
<circle cx="535.0" cy="149.4" r="1.55"/>
<circle cx="554.6" cy="112.7" r="1.55"/>
<circle cx="536.9" cy="150.8" r="1.55"/>
<circle cx="547.7" cy="137.8" r="1.55"/>
<circle cx="531.5" cy="163.4" r="1.55"/>
<circle cx="538.0" cy="137.7" r="1.55"/>
<circle cx="571.1" cy="107.0" r="1.55"/>
<circle cx="543.0" cy="136.8" r="1.55"/>
<circle cx="555.1" cy="115.2" r="1.55"/>
<circle cx="549.5" cy="124.7" r="1.55"/>
<circle cx="533.2" cy="161.0" r="1.55"/>
<circle cx="572.0" cy="103.6" r="1.55"/>
<circle cx="540.8" cy="136.0" r="1.55"/>
<circle cx="531.4" cy="158.2" r="1.55"/>
<circle cx="553.2" cy="115.0" r="1.55"/>
<circle cx="558.2" cy="124.7" r="1.55"/>
<circle cx="551.1" cy="124.8" r="1.55"/>
<circle cx="560.1" cy="118.5" r="1.55"/>
<circle cx="545.4" cy="135.1" r="1.55"/>
<circle cx="580.4" cy="100.3" r="1.55"/>
<circle cx="539.1" cy="141.8" r="1.55"/>
<circle cx="576.3" cy="101.1" r="1.55"/>
<circle cx="537.8" cy="145.4" r="1.55"/>
<circle cx="546.2" cy="131.5" r="1.55"/>
<circle cx="532.7" cy="150.4" r="1.55"/>
<circle cx="536.1" cy="147.3" r="1.55"/>
<circle cx="540.4" cy="137.8" r="1.55"/>
<circle cx="559.6" cy="115.2" r="1.55"/>
<circle cx="535.3" cy="154.2" r="1.55"/>
<circle cx="533.9" cy="166.5" r="1.55"/>
<circle cx="537.4" cy="151.7" r="1.55"/>
<circle cx="541.6" cy="147.9" r="1.55"/>
<circle cx="534.3" cy="160.9" r="1.55"/>
<circle cx="532.8" cy="157.3" r="1.55"/>
<circle cx="562.1" cy="107.7" r="1.55"/>
<circle cx="562.6" cy="123.1" r="1.55"/>
<circle cx="548.4" cy="128.1" r="1.55"/>
<circle cx="542.1" cy="150.0" r="1.55"/>
<circle cx="549.0" cy="131.5" r="1.55"/>
<circle cx="537.3" cy="156.4" r="1.55"/>
<circle cx="574.5" cy="104.2" r="1.55"/>
<circle cx="530.8" cy="158.9" r="1.55"/>
<circle cx="567.2" cy="122.1" r="1.55"/>
<circle cx="533.4" cy="157.0" r="1.55"/>
<circle cx="546.9" cy="121.5" r="1.55"/>
<circle cx="537.3" cy="142.7" r="1.55"/>
<circle cx="540.3" cy="137.1" r="1.55"/>
<circle cx="559.2" cy="114.7" r="1.55"/>
<circle cx="535.4" cy="163.6" r="1.55"/>
<circle cx="542.4" cy="135.9" r="1.55"/>
<circle cx="550.6" cy="122.0" r="1.55"/>
<circle cx="544.6" cy="120.5" r="1.55"/>
<circle cx="531.3" cy="176.7" r="1.55"/>
<circle cx="581.9" cy="98.7" r="1.55"/>
<circle cx="533.3" cy="160.4" r="1.55"/>
<circle cx="530.8" cy="168.0" r="1.55"/>
<circle cx="545.6" cy="152.2" r="1.55"/>
<circle cx="560.7" cy="105.1" r="1.55"/>
<circle cx="532.5" cy="164.0" r="1.55"/>
<circle cx="532.8" cy="159.6" r="1.55"/>
<circle cx="544.8" cy="127.0" r="1.55"/>
<circle cx="530.7" cy="172.7" r="1.55"/>
<circle cx="555.3" cy="122.0" r="1.55"/>
<circle cx="564.4" cy="105.8" r="1.55"/>
<circle cx="564.8" cy="106.3" r="1.55"/>
<circle cx="552.1" cy="137.3" r="1.55"/>
<circle cx="547.8" cy="120.2" r="1.55"/>
<circle cx="536.6" cy="147.4" r="1.55"/>
<circle cx="565.0" cy="129.5" r="1.55"/>
<circle cx="537.9" cy="153.0" r="1.55"/>
<circle cx="569.6" cy="102.6" r="1.55"/>
<circle cx="559.3" cy="121.0" r="1.55"/>
<circle cx="576.3" cy="103.8" r="1.55"/>
<circle cx="548.8" cy="125.6" r="1.55"/>
<circle cx="560.7" cy="126.0" r="1.55"/>
<circle cx="538.4" cy="147.5" r="1.55"/>
<circle cx="572.4" cy="116.7" r="1.55"/>
<circle cx="583.2" cy="109.8" r="1.55"/>
<circle cx="543.5" cy="146.4" r="1.55"/>
<circle cx="535.2" cy="153.5" r="1.55"/>
<circle cx="537.2" cy="153.2" r="1.55"/>
<circle cx="540.3" cy="139.5" r="1.55"/>
<circle cx="563.2" cy="120.4" r="1.55"/>
<circle cx="551.1" cy="125.1" r="1.55"/>
<circle cx="551.0" cy="130.4" r="1.55"/>
<circle cx="582.6" cy="94.5" r="1.55"/>
<circle cx="551.7" cy="127.7" r="1.55"/>
<circle cx="577.3" cy="101.0" r="1.55"/>
<circle cx="545.4" cy="134.7" r="1.55"/>
<circle cx="543.9" cy="139.0" r="1.55"/>
<circle cx="549.2" cy="147.8" r="1.55"/>
<circle cx="570.4" cy="107.3" r="1.55"/>
<circle cx="542.9" cy="144.4" r="1.55"/>
<circle cx="536.3" cy="170.1" r="1.55"/>
<circle cx="589.2" cy="94.6" r="1.55"/>
<circle cx="558.0" cy="123.3" r="1.55"/>
<circle cx="537.9" cy="139.7" r="1.55"/>
<circle cx="562.1" cy="133.8" r="1.55"/>
<circle cx="542.5" cy="146.5" r="1.55"/>
<circle cx="538.2" cy="149.8" r="1.55"/>
<circle cx="534.1" cy="155.0" r="1.55"/>
<circle cx="564.7" cy="100.6" r="1.55"/>
<circle cx="534.8" cy="143.0" r="1.55"/>
<circle cx="550.9" cy="134.7" r="1.55"/>
<circle cx="565.7" cy="124.1" r="1.55"/>
<circle cx="557.5" cy="108.3" r="1.55"/>
<circle cx="541.5" cy="121.9" r="1.55"/>
<circle cx="535.5" cy="153.2" r="1.55"/>
<circle cx="596.9" cy="93.3" r="1.55"/>
<circle cx="546.2" cy="120.4" r="1.55"/>
<circle cx="536.8" cy="151.8" r="1.55"/>
<circle cx="565.1" cy="126.4" r="1.55"/>
<circle cx="578.5" cy="102.6" r="1.55"/>
<circle cx="554.5" cy="107.8" r="1.55"/>
<circle cx="533.4" cy="167.1" r="1.55"/>
<circle cx="548.2" cy="128.1" r="1.55"/>
<circle cx="530.9" cy="171.3" r="1.55"/>
<circle cx="564.9" cy="96.6" r="1.55"/>
<circle cx="568.0" cy="99.4" r="1.55"/>
<circle cx="550.3" cy="122.7" r="1.55"/>
<circle cx="585.8" cy="105.7" r="1.55"/>
<circle cx="547.3" cy="129.5" r="1.55"/>
<circle cx="544.9" cy="129.4" r="1.55"/>
<circle cx="541.5" cy="142.3" r="1.55"/>
<circle cx="546.3" cy="107.6" r="1.55"/>
<circle cx="549.8" cy="127.5" r="1.55"/>
<circle cx="555.4" cy="111.8" r="1.55"/>
<circle cx="554.6" cy="124.6" r="1.55"/>
<circle cx="571.6" cy="94.8" r="1.55"/>
<circle cx="545.3" cy="136.0" r="1.55"/>
<circle cx="556.0" cy="138.2" r="1.55"/>
<circle cx="561.9" cy="132.3" r="1.55"/>
<circle cx="553.2" cy="123.5" r="1.55"/>
<circle cx="575.1" cy="97.6" r="1.55"/>
<circle cx="550.8" cy="135.8" r="1.55"/>
<circle cx="544.5" cy="140.5" r="1.55"/>
<circle cx="548.4" cy="135.9" r="1.55"/>
<circle cx="532.4" cy="164.8" r="1.55"/>
<circle cx="544.6" cy="136.3" r="1.55"/>
<circle cx="537.6" cy="146.2" r="1.55"/>
<circle cx="530.5" cy="157.9" r="1.55"/>
<circle cx="561.4" cy="115.0" r="1.55"/>
<circle cx="533.0" cy="163.4" r="1.55"/>
<circle cx="571.9" cy="112.4" r="1.55"/>
<circle cx="530.3" cy="172.9" r="1.55"/>
<circle cx="563.7" cy="114.5" r="1.55"/>
<circle cx="540.4" cy="133.8" r="1.55"/>
<circle cx="581.3" cy="95.1" r="1.55"/>
<circle cx="540.4" cy="149.9" r="1.55"/>
<circle cx="580.7" cy="104.2" r="1.55"/>
<circle cx="539.7" cy="148.4" r="1.55"/>
<circle cx="532.8" cy="154.3" r="1.55"/>
<circle cx="583.1" cy="92.9" r="1.55"/>
<circle cx="590.7" cy="105.8" r="1.55"/>
<circle cx="570.0" cy="106.5" r="1.55"/>
<circle cx="577.5" cy="92.5" r="1.55"/>
<circle cx="560.5" cy="109.7" r="1.55"/>
<circle cx="552.2" cy="115.9" r="1.55"/>
<circle cx="531.6" cy="162.4" r="1.55"/>
<circle cx="575.4" cy="101.0" r="1.55"/>
<circle cx="545.2" cy="117.4" r="1.55"/>
<circle cx="531.2" cy="157.1" r="1.55"/>
<circle cx="562.7" cy="96.1" r="1.55"/>
<circle cx="573.7" cy="95.2" r="1.55"/>
<circle cx="530.1" cy="167.0" r="1.55"/>
<circle cx="579.8" cy="98.8" r="1.55"/>
<circle cx="540.6" cy="141.9" r="1.55"/>
<circle cx="561.3" cy="117.3" r="1.55"/>
<circle cx="564.2" cy="117.5" r="1.55"/>
<circle cx="557.8" cy="113.5" r="1.55"/>
<circle cx="567.0" cy="115.7" r="1.55"/>
<circle cx="575.5" cy="100.3" r="1.55"/>
<circle cx="586.0" cy="95.1" r="1.55"/>
<circle cx="580.4" cy="95.6" r="1.55"/>
<circle cx="536.8" cy="149.3" r="1.55"/>
<circle cx="549.0" cy="140.4" r="1.55"/>
<circle cx="546.6" cy="128.8" r="1.55"/>
<circle cx="536.0" cy="163.9" r="1.55"/>
<circle cx="571.9" cy="123.9" r="1.55"/>
<circle cx="538.9" cy="136.8" r="1.55"/>
<circle cx="551.0" cy="125.8" r="1.55"/>
<circle cx="531.2" cy="163.3" r="1.55"/>
<circle cx="530.3" cy="169.0" r="1.55"/>
<circle cx="569.8" cy="105.0" r="1.55"/>
<circle cx="531.1" cy="167.1" r="1.55"/>
<circle cx="560.5" cy="112.2" r="1.55"/>
<circle cx="530.4" cy="166.4" r="1.55"/>
<circle cx="536.8" cy="146.0" r="1.55"/>
<circle cx="542.4" cy="135.1" r="1.55"/>
<circle cx="560.5" cy="108.4" r="1.55"/>
<circle cx="549.2" cy="122.8" r="1.55"/>
<circle cx="543.0" cy="140.0" r="1.55"/>
<circle cx="566.6" cy="122.2" r="1.55"/>
<circle cx="565.8" cy="118.2" r="1.55"/>
<circle cx="575.4" cy="101.8" r="1.55"/>
<circle cx="545.6" cy="133.9" r="1.55"/>
<circle cx="538.6" cy="156.2" r="1.55"/>
<circle cx="536.0" cy="159.3" r="1.55"/>
<circle cx="533.1" cy="161.7" r="1.55"/>
<circle cx="545.5" cy="137.7" r="1.55"/>
<circle cx="556.4" cy="131.5" r="1.55"/>
<circle cx="540.3" cy="132.6" r="1.55"/>
<circle cx="556.2" cy="119.2" r="1.55"/>
<circle cx="549.9" cy="123.8" r="1.55"/>
<circle cx="575.0" cy="111.5" r="1.55"/>
<circle cx="574.9" cy="101.8" r="1.55"/>
<circle cx="540.3" cy="155.6" r="1.55"/>
<circle cx="563.6" cy="103.9" r="1.55"/>
<circle cx="551.2" cy="137.9" r="1.55"/>
<circle cx="558.0" cy="114.1" r="1.55"/>
<circle cx="565.1" cy="96.3" r="1.55"/>
<circle cx="546.0" cy="129.3" r="1.55"/>
<circle cx="545.7" cy="147.3" r="1.55"/>
<circle cx="547.5" cy="134.5" r="1.55"/>
<circle cx="552.9" cy="125.7" r="1.55"/>
<circle cx="570.0" cy="106.1" r="1.55"/>
<circle cx="581.9" cy="118.4" r="1.55"/>
<circle cx="535.5" cy="143.4" r="1.55"/>
<circle cx="532.7" cy="157.6" r="1.55"/>
<circle cx="537.5" cy="142.8" r="1.55"/>
<circle cx="544.4" cy="135.8" r="1.55"/>
<circle cx="560.9" cy="128.2" r="1.55"/>
<circle cx="540.8" cy="136.0" r="1.55"/>
<circle cx="565.7" cy="100.6" r="1.55"/>
<circle cx="588.3" cy="98.1" r="1.55"/>
<circle cx="555.4" cy="123.8" r="1.55"/>
<circle cx="537.1" cy="138.1" r="1.55"/>
<circle cx="575.7" cy="121.9" r="1.55"/>
<circle cx="552.5" cy="121.0" r="1.55"/>
<circle cx="594.2" cy="107.9" r="1.55"/>
<circle cx="542.6" cy="136.6" r="1.55"/>
<circle cx="564.1" cy="119.4" r="1.55"/>
<circle cx="549.7" cy="127.0" r="1.55"/>
<circle cx="531.3" cy="160.8" r="1.55"/>
<circle cx="559.7" cy="117.0" r="1.55"/>
<circle cx="556.9" cy="101.2" r="1.55"/>
<circle cx="532.4" cy="164.4" r="1.55"/>
<circle cx="540.2" cy="141.3" r="1.55"/>
<circle cx="558.2" cy="124.9" r="1.55"/>
<circle cx="539.3" cy="138.4" r="1.55"/>
<circle cx="540.5" cy="124.5" r="1.55"/>
<circle cx="536.7" cy="150.4" r="1.55"/>
<circle cx="536.7" cy="133.2" r="1.55"/>
<circle cx="560.6" cy="112.5" r="1.55"/>
<circle cx="563.4" cy="107.5" r="1.55"/>
<circle cx="533.3" cy="154.6" r="1.55"/>
<circle cx="578.7" cy="111.2" r="1.55"/>
<circle cx="549.3" cy="126.6" r="1.55"/>
<circle cx="571.7" cy="97.5" r="1.55"/>
<circle cx="553.7" cy="125.8" r="1.55"/>
<circle cx="535.3" cy="150.4" r="1.55"/>
<circle cx="545.8" cy="142.0" r="1.55"/>
<circle cx="535.1" cy="149.8" r="1.55"/>
<circle cx="576.1" cy="91.9" r="1.55"/>
<circle cx="557.3" cy="123.6" r="1.55"/>
<circle cx="579.9" cy="95.0" r="1.55"/>
<circle cx="567.4" cy="109.7" r="1.55"/>
<circle cx="541.3" cy="150.5" r="1.55"/>
<circle cx="557.5" cy="117.5" r="1.55"/>
<circle cx="556.5" cy="114.1" r="1.55"/>
<circle cx="565.2" cy="119.2" r="1.55"/>
<circle cx="580.2" cy="111.1" r="1.55"/>
<circle cx="534.0" cy="156.7" r="1.55"/>
<circle cx="567.8" cy="112.8" r="1.55"/>
<circle cx="540.3" cy="149.8" r="1.55"/>
<circle cx="543.7" cy="139.8" r="1.55"/>
<circle cx="540.2" cy="140.6" r="1.55"/>
<circle cx="536.3" cy="155.4" r="1.55"/>
<circle cx="594.3" cy="101.3" r="1.55"/>
<circle cx="568.4" cy="130.5" r="1.55"/>
<circle cx="546.3" cy="144.0" r="1.55"/>
<circle cx="541.5" cy="135.9" r="1.55"/>
<circle cx="551.2" cy="133.9" r="1.55"/>
<circle cx="534.4" cy="153.9" r="1.55"/>
<circle cx="572.2" cy="94.8" r="1.55"/>
<circle cx="530.7" cy="158.5" r="1.55"/>
<circle cx="548.7" cy="143.7" r="1.55"/>
<circle cx="564.7" cy="108.7" r="1.55"/>
<circle cx="548.4" cy="120.5" r="1.55"/>
<circle cx="547.3" cy="128.6" r="1.55"/>
<circle cx="580.3" cy="99.2" r="1.55"/>
<circle cx="532.8" cy="155.6" r="1.55"/>
<circle cx="538.5" cy="136.6" r="1.55"/>
<circle cx="607.7" cy="41.5" r="1.55"/>
<circle cx="610.7" cy="42.2" r="1.55"/>
<circle cx="620.7" cy="42.3" r="1.55"/>
<circle cx="627.1" cy="41.5" r="1.55"/>
<circle cx="631.9" cy="42.7" r="1.55"/>
<circle cx="631.9" cy="44.5" r="1.55"/>
<circle cx="619.2" cy="46.1" r="1.55"/>
<circle cx="636.6" cy="46.4" r="1.55"/>
<circle cx="606.3" cy="50.0" r="1.55"/>
<circle cx="609.4" cy="50.0" r="1.55"/>
<circle cx="605.2" cy="52.8" r="1.55"/>
<circle cx="610.6" cy="52.0" r="1.55"/>
<circle cx="615.3" cy="48.9" r="1.55"/>
<circle cx="617.8" cy="49.5" r="1.55"/>
<circle cx="616.7" cy="50.6" r="1.55"/>
<circle cx="621.7" cy="50.3" r="1.55"/>
<circle cx="616.5" cy="54.2" r="1.55"/>
<circle cx="623.8" cy="54.0" r="1.55"/>
<circle cx="636.8" cy="54.5" r="1.55"/>
<circle cx="640.3" cy="51.1" r="1.55"/>
<circle cx="641.5" cy="53.3" r="1.55"/>
<circle cx="648.0" cy="50.3" r="1.55"/>
<circle cx="671.5" cy="56.2" r="1.55"/>
<circle cx="600.9" cy="57.6" r="1.55"/>
<circle cx="614.1" cy="60.5" r="1.55"/>
<circle cx="612.8" cy="62.5" r="1.55"/>
<circle cx="606.3" cy="63.8" r="1.55"/>
<circle cx="611.9" cy="66.4" r="1.55"/>
<circle cx="613.6" cy="65.9" r="1.55"/>
<circle cx="601.8" cy="70.9" r="1.55"/>
<circle cx="620.7" cy="69.2" r="1.55"/>
<circle cx="620.4" cy="71.6" r="1.55"/>
<circle cx="633.1" cy="70.2" r="1.55"/>
<circle cx="631.9" cy="71.8" r="1.55"/>
<circle cx="642.0" cy="71.2" r="1.55"/>
<circle cx="628.8" cy="74.6" r="1.55"/>
<circle cx="630.5" cy="74.3" r="1.55"/>
<circle cx="633.6" cy="75.2" r="1.55"/>
<circle cx="621.2" cy="75.2" r="1.55"/>
<circle cx="607.7" cy="75.5" r="1.55"/>
<circle cx="641.5" cy="74.6" r="1.55"/>
<circle cx="653.4" cy="75.0" r="1.55"/>
<circle cx="652.9" cy="76.2" r="1.55"/>
<circle cx="617.8" cy="78.0" r="1.55"/>
<circle cx="626.0" cy="78.5" r="1.55"/>
<circle cx="598.0" cy="78.5" r="1.55"/>
<circle cx="600.6" cy="78.5" r="1.55"/>
<circle cx="598.7" cy="81.4" r="1.55"/>
<circle cx="605.5" cy="83.3" r="1.55"/>
<circle cx="603.5" cy="84.0" r="1.55"/>
<circle cx="599.2" cy="85.3" r="1.55"/>
<circle cx="601.4" cy="86.1" r="1.55"/>
<circle cx="609.4" cy="85.6" r="1.55"/>
<circle cx="613.3" cy="85.0" r="1.55"/>
<circle cx="622.6" cy="85.6" r="1.55"/>
<circle cx="624.3" cy="86.5" r="1.55"/>
<circle cx="635.6" cy="87.5" r="1.55"/>
<circle cx="642.7" cy="89.5" r="1.55"/>
<circle cx="654.5" cy="92.4" r="1.55"/>
<circle cx="632.6" cy="92.9" r="1.55"/>
<circle cx="612.4" cy="95.5" r="1.55"/>
<circle cx="642.0" cy="96.3" r="1.55"/>
<circle cx="653.9" cy="96.0" r="1.55"/>
<circle cx="631.9" cy="97.1" r="1.55"/>
<circle cx="603.8" cy="98.0" r="1.55"/>
<circle cx="616.1" cy="101.4" r="1.55"/>
<circle cx="600.6" cy="101.0" r="1.55"/>
<circle cx="598.7" cy="102.6" r="1.55"/>
<circle cx="596.7" cy="106.4" r="1.55"/>
<circle cx="597.5" cy="107.3" r="1.55"/>
<circle cx="595.8" cy="83.6" r="1.55"/>
<circle cx="595.0" cy="86.0" r="1.55"/>
<circle cx="596.7" cy="88.7" r="1.55"/>
<circle cx="595.8" cy="93.0" r="1.55"/>
<circle cx="597.0" cy="93.8" r="1.55"/>
<circle cx="612.7" cy="95.1" r="1.55"/>
<circle cx="616.6" cy="101.5" r="1.55"/>
<circle cx="603.9" cy="97.6" r="1.55"/>
<circle cx="600.6" cy="101.8" r="1.55"/>
<circle cx="593.7" cy="58.0" r="1.55"/>
<circle cx="578.3" cy="66.4" r="1.55"/>
<circle cx="581.7" cy="67.1" r="1.55"/>
<circle cx="589.2" cy="67.1" r="1.55"/>
<circle cx="590.1" cy="68.6" r="1.55"/>
<circle cx="580.2" cy="72.7" r="1.55"/>
<circle cx="571.1" cy="76.5" r="1.55"/>
<circle cx="592.3" cy="75.6" r="1.55"/>
<circle cx="598.2" cy="78.8" r="1.55"/>
<circle cx="575.0" cy="81.7" r="1.55"/>
<circle cx="564.8" cy="83.5" r="1.55"/>
<circle cx="569.3" cy="87.4" r="1.55"/>
<circle cx="580.6" cy="84.0" r="1.55"/>
<circle cx="582.9" cy="84.7" r="1.55"/>
<circle cx="593.0" cy="82.4" r="1.55"/>
<circle cx="595.3" cy="83.3" r="1.55"/>
<circle cx="591.4" cy="87.4" r="1.55"/>
<circle cx="579.5" cy="88.5" r="1.55"/>
<circle cx="581.7" cy="87.8" r="1.55"/>
<circle cx="571.6" cy="89.6" r="1.55"/>
<circle cx="563.7" cy="92.3" r="1.55"/>
<circle cx="561.4" cy="94.8" r="1.55"/>
<circle cx="568.2" cy="93.0" r="1.55"/>
<circle cx="570.5" cy="94.1" r="1.55"/>
<circle cx="572.7" cy="93.0" r="1.55"/>
<circle cx="577.2" cy="93.0" r="1.55"/>
<circle cx="579.5" cy="94.1" r="1.55"/>
<circle cx="585.1" cy="91.9" r="1.55"/>
<circle cx="587.4" cy="93.7" r="1.55"/>
<circle cx="594.1" cy="90.8" r="1.55"/>
<circle cx="596.4" cy="93.0" r="1.55"/>
<circle cx="567.1" cy="97.5" r="1.55"/>
<circle cx="573.8" cy="97.5" r="1.55"/>
<circle cx="578.3" cy="97.5" r="1.55"/>
<circle cx="584.0" cy="96.4" r="1.55"/>
<circle cx="590.8" cy="96.4" r="1.55"/>
<circle cx="595.3" cy="96.4" r="1.55"/>
<circle cx="445.6" cy="195.2" r="1.55"/>
<circle cx="445.0" cy="199.3" r="1.55"/>
<circle cx="458.3" cy="192.2" r="1.55"/>
<circle cx="458.8" cy="194.3" r="1.55"/>
<circle cx="461.8" cy="193.3" r="1.55"/>
<circle cx="462.9" cy="195.5" r="1.55"/>
<circle cx="469.3" cy="191.8" r="1.55"/>
<circle cx="469.3" cy="194.0" r="1.55"/>
<circle cx="465.6" cy="196.3" r="1.55"/>
<circle cx="466.8" cy="198.5" r="1.55"/>
<circle cx="468.6" cy="200.0" r="1.55"/>
<circle cx="470.8" cy="201.2" r="1.55"/>
<circle cx="472.3" cy="199.3" r="1.55"/>
<circle cx="473.8" cy="201.5" r="1.55"/>
<circle cx="452.8" cy="205.3" r="1.55"/>
<circle cx="455.0" cy="204.1" r="1.55"/>
<circle cx="457.6" cy="202.3" r="1.55"/>
<circle cx="453.8" cy="209.1" r="1.55"/>
<circle cx="459.5" cy="205.3" r="1.55"/>
<circle cx="461.8" cy="205.6" r="1.55"/>
<circle cx="464.4" cy="204.5" r="1.55"/>
<circle cx="464.1" cy="207.6" r="1.55"/>
<circle cx="467.1" cy="202.7" r="1.55"/>
<circle cx="470.1" cy="203.8" r="1.55"/>
<circle cx="472.3" cy="204.5" r="1.55"/>
<circle cx="469.8" cy="206.8" r="1.55"/>
<circle cx="464.4" cy="211.8" r="1.55"/>
<circle cx="468.6" cy="210.6" r="1.55"/>
<circle cx="468.6" cy="212.8" r="1.55"/>
<circle cx="472.3" cy="212.1" r="1.55"/>
<circle cx="473.8" cy="207.6" r="1.55"/>
<circle cx="476.1" cy="205.3" r="1.55"/>
<circle cx="478.3" cy="204.5" r="1.55"/>
<circle cx="476.1" cy="209.1" r="1.55"/>
<circle cx="479.1" cy="209.8" r="1.55"/>
<circle cx="477.3" cy="214.8" r="1.55"/>
<circle cx="482.1" cy="207.6" r="1.55"/>
<circle cx="465.6" cy="218.4" r="1.55"/>
<circle cx="482.4" cy="221.1" r="1.55"/>
<circle cx="484.4" cy="218.8" r="1.55"/>
<circle cx="479.1" cy="188.8" r="1.55"/>
<circle cx="482.1" cy="188.0" r="1.55"/>
<circle cx="484.4" cy="187.3" r="1.55"/>
<circle cx="479.2" cy="174.3" r="1.55"/>
<circle cx="476.8" cy="177.5" r="1.55"/>
<circle cx="480.8" cy="177.0" r="1.55"/>
<circle cx="477.5" cy="182.8" r="1.55"/>
<circle cx="480.9" cy="182.3" r="1.55"/>
<circle cx="478.4" cy="188.6" r="1.55"/>
<circle cx="482.6" cy="187.5" r="1.55"/>
<circle cx="495.0" cy="187.6" r="1.55"/>
<circle cx="490.5" cy="189.0" r="1.55"/>
<circle cx="507.4" cy="190.6" r="1.55"/>
<circle cx="488.8" cy="189.6" r="1.55"/>
<circle cx="492.2" cy="190.8" r="1.55"/>
<circle cx="495.6" cy="191.3" r="1.55"/>
<circle cx="500.7" cy="192.6" r="1.55"/>
<circle cx="484.0" cy="218.8" r="1.55"/>
<circle cx="482.6" cy="221.2" r="1.55"/>
<circle cx="485.8" cy="223.0" r="1.55"/>
<circle cx="487.0" cy="214.6" r="1.55"/>
<circle cx="489.4" cy="214.0" r="1.55"/>
<circle cx="490.0" cy="218.8" r="1.55"/>
<circle cx="491.8" cy="218.2" r="1.55"/>
<circle cx="493.6" cy="219.4" r="1.55"/>
<circle cx="494.8" cy="221.2" r="1.55"/>
<circle cx="497.8" cy="220.6" r="1.55"/>
<circle cx="491.2" cy="224.8" r="1.55"/>
<circle cx="491.8" cy="227.2" r="1.55"/>
<circle cx="496.6" cy="223.0" r="1.55"/>
<circle cx="499.0" cy="224.8" r="1.55"/>
<circle cx="501.4" cy="223.0" r="1.55"/>
<circle cx="502.6" cy="221.8" r="1.55"/>
<circle cx="500.8" cy="229.0" r="1.55"/>
<circle cx="503.0" cy="226.0" r="1.55"/>
<circle cx="506.9" cy="224.8" r="1.55"/>
<circle cx="506.3" cy="220.6" r="1.55"/>
<circle cx="506.3" cy="218.8" r="1.55"/>
<circle cx="510.5" cy="220.6" r="1.55"/>
<circle cx="509.9" cy="216.4" r="1.55"/>
<circle cx="513.5" cy="224.8" r="1.55"/>
<circle cx="514.7" cy="227.8" r="1.55"/>
<circle cx="514.0" cy="220.0" r="1.55"/>
<circle cx="518.3" cy="219.4" r="1.55"/>
<circle cx="518.3" cy="221.8" r="1.55"/>
<circle cx="518.3" cy="224.2" r="1.55"/>
<circle cx="518.3" cy="226.6" r="1.55"/>
<circle cx="520.7" cy="227.2" r="1.55"/>
<circle cx="524.3" cy="220.0" r="1.55"/>
<circle cx="523.0" cy="217.0" r="1.55"/>
<circle cx="479.8" cy="209.2" r="1.55"/>
<circle cx="481.6" cy="208.6" r="1.55"/>
<circle cx="483.4" cy="207.4" r="1.55"/>
<circle cx="478.6" cy="210.4" r="1.55"/>
<circle cx="492.4" cy="212.2" r="1.55"/>
<circle cx="490.0" cy="211.6" r="1.55"/>
<circle cx="491.2" cy="213.4" r="1.55"/>
<circle cx="486.1" cy="215.1" r="1.55"/>
<circle cx="489.8" cy="213.2" r="1.55"/>
<circle cx="483.2" cy="219.8" r="1.55"/>
<circle cx="485.1" cy="222.2" r="1.55"/>
<circle cx="496.4" cy="220.7" r="1.55"/>
<circle cx="489.8" cy="224.5" r="1.55"/>
<circle cx="498.3" cy="225.4" r="1.55"/>
</g>
</svg></body></html>
